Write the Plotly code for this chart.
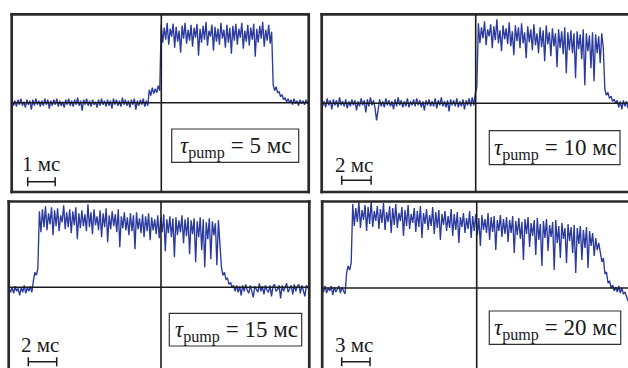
import numpy as np
import plotly.graph_objects as go

W, H = 628, 368

# ---------------- data ----------------
pump_ms = [5, 10, 15, 20]          # tau_pump for each panel
scale_ms = [1, 2, 2, 3]            # scale-bar length (ms)
t_start = [-5.43, -10.52, -10.70, -16.39]   # first sample time (ms)
t_end = [5.37, 10.36, 10.56, 16.03]         # last sample time (ms)

# signal amplitude (a.u.)
sig_5ms = [
    3, -3, 2, -4, 3, -2, 4, -3, 1, -5, 3, -2, 2, -7, 3, -3, 4, -2, 2, -4,
    2, -3, 4, -2, 3, -6, 2, -3, 3, -2, 4, -4, 2, -3, 1, -5, 3, -2, 4, -3,
    2, -4, 3, -2, 5, -3, 2, -8, 3, -2, 4, -3, 2, -4, 3, -2, 1, -5, 3, -3,
    4, -2, 2, -4, 3, -3, 2, -6, 4, -2, 3, -3, 2, -4, 5, -2, 3, -3, 2, -5,
    3, -2, 4, -7, 2, -3, 3, -2, 4, -4, 2, -3,
    13, 7, 15, 9, 14, 10, 17, 12,
    78, 60, 75, 63, 80, 58, 74, 66, 79, 55, 76, 61, 72, 50, 77, 64, 80, 59, 73, 62,
    78, 56, 75, 65, 79, 47, 74, 60, 77, 63, 81, 57, 72, 66, 78, 52, 76, 61, 74, 58,
    80, 64, 73, 55, 78, 60, 75, 49, 77, 62, 79, 58, 74, 65, 80, 54, 72, 61, 78, 57,
    75, 63, 79, 46, 74, 60, 77, 64, 81, 56, 73, 62, 78, 59, 71,
    18, 12, 16, 10, 11, 6, 8, 3, 5, 1, 4, 0,
    3, -2, 4, -1, 2, -3, 3, -1, 2, -2, 3, -1, 2,
]
sig_10ms = [
    3, -3, 2, -4, 5, -2, 3, -6, 4, -2, 3, -4, 6, -2, 2, -3, 4, -5, 2, -3,
    4, -2, 3, -7, 2, -3, 5, -2, 3, -9, 4, -3, 6, -2, 3, -5, -17, -7, 4, -3,
    2, -4, 5, -2, 3, -3, 2, -6, 4, -3, 6, -2, 3, -4, 2, -3, 5, -4, 2, -2,
    4, -3, 5, -2, 3, -4, 2, -7, 3, -2, 4, -3, 2, -3, 5, -5, 3, -2, 6, -3,
    2, -4, 3, -8, 4, -2, 3, -3, 5, -4, 2, -3, 4, -6, 3, -2, 5, -3, 6, -2,
    10, 16,
    80, 60, 76, 65, 82, 58, 74, 67, 79, 55, 77, 63, 84, 60, 73, 52, 78, 64, 75, 59,
    81, 57, 72, 48, 78, 62, 76, 55, 80, 60, 71, 45, 77, 61, 74, 53, 79, 58, 70, 50,
    76, 56, 73, 42, 78, 59, 71, 47, 75, 57, 70, 36, 74, 55, 72, 49, 76, 30, 71, 53,
    73, 50, 70, 25, 72, 54, 69, 44, 74, 18, 70, 52, 68, 35, 71, 22, 69, 50, 67, 40, 70, 55,
    14, 8, 11, 5, 7, 2, 4, 0,
    3, -4, 2, -6, 3, -3, 2, -5,
]
sig_15ms = [
    -1, -5, 0, -6, 1, -4, -1, -8, 0, -5, 2, -6, 0, -4, 1, -5,
    6, 15, 12, 19,
    76, 55, 78, 60, 81, 57, 74, 63, 80, 52, 77, 61, 79, 56, 72, 65, 82, 58, 75, 60,
    78, 54, 76, 62, 80, 48, 74, 59, 77, 61, 73, 56, 83, 60, 75, 53, 78, 62, 71, 57,
    77, 50, 74, 60, 79, 45, 72, 58, 76, 61, 73, 55, 78, 40, 71, 59, 75, 57, 70, 52,
    74, 56, 72, 38, 75, 58, 69, 54, 73, 50, 71, 56, 74, 47, 70, 57, 68, 53, 72, 49,
    70, 55, 73, 36, 68, 54, 71, 50, 69, 30, 70, 52, 67, 55, 72, 44, 68, 51, 70, 33,
    67, 53, 69, 25, 66, 50, 70, 37, 68, 20, 65, 48, 69, 28, 66, 52, 64, 22, 67, 45,
    20, 12, 15, 8, 9, 3, 5, 0, 2,
    -4, 2, -5, 1, -8, 2, -4, 3, -3, -6, 2, -3, -10, 1, -2, -5, 4, -4, 1, -7,
    2, -3, -5, 2, -9, 1, 3, -4, -2, 2, -11, 2, -4, 1, 4, -5, -2, 2, -7, 3,
    -4, 1, 3, -6, 2, -3, -9, 2, 0, -5, 2,
]
sig_20ms = [
    1, -4, 2, -5, 0, -3, 2, -7, 1, -4, -1, 2, -5, 1, -3, -6,
    15, 22, 18, 25,
    84, 62, 80, 66, 86, 60, 78, 68, 83, 57, 81, 64, 87, 61, 77, 67, 82, 59, 79, 65,
    85, 58, 76, 66, 82, 55, 80, 63, 84, 60, 75, 67, 81, 52, 78, 62, 83, 59, 74, 65,
    80, 56, 77, 61, 82, 50, 75, 64, 79, 58, 73, 62, 81, 54, 76, 60, 78, 48, 74, 63,
    77, 57, 72, 60, 79, 52, 74, 58, 76, 45, 71, 61, 75, 55, 70, 59, 77, 50, 72, 57,
    74, 53, 70, 42, 73, 58, 69, 55, 75, 48, 71, 56, 72, 38, 68, 57, 73, 51, 69, 54,
    71, 46, 68, 55, 72, 35, 67, 53, 70, 49, 66, 28, 69, 54, 71, 41, 65, 52, 68, 33,
    70, 48, 64, 22, 67, 50, 69, 37, 63, 51, 66, 18, 68, 45, 62, 30, 65, 49, 60, 25,
    64, 47, 61, 35, 63, 15, 60, 44, 62, 28, 58, 40, 61, 20, 57, 42, 55, 32, 50, 38, 45,
    36, 26, 30, 14, 16, 5, 7, 0,
    3, -3, 1, -4, 2, -5, 0, -6, -4, -10, -13,
]
signals = [sig_5ms, sig_10ms, sig_15ms, sig_20ms]

# ---------------- layout (pixel geometry) ----------------
panels = [
    dict(box=(11.7, 14.3, 308.7, 192.0), xr=(-5.44, 5.36), yr=(-89.3, 88.4),
         edges="ltrb", tbox=(171.7, 129.0, 298.7, 162.3), bar=(27.7, 181.7), lab=(41.3, 164.0)),
    dict(box=(321.7, 14.3, 628.0, 192.0), xr=(-10.476, 10.361), yr=(-88.7, 89.0),
         edges="ltb", tbox=(489.3, 130.7, 620.0, 164.7), bar=(341.7, 180.3), lab=(353.7, 165.0)),
    dict(box=(8.7, 201.5, 309.3, 368.0), xr=(-10.725, 10.444), yr=(-80.7, 85.8),
         edges="ltr", tbox=(169.3, 313.3, 301.7, 346.0), bar=(28.3, 361.7), lab=(40.3, 345.0)),
    dict(box=(322.2, 201.5, 628.0, 368.0), xr=(-16.367, 16.028), yr=(-80.0, 86.5),
         edges="lt", tbox=(489.3, 311.0, 620.7, 344.3), bar=(341.7, 361.7), lab=(354.2, 345.0)),
]

def px(x):
    return x / W

def py(y):
    return 1 - y / H

FRAME_C = "#2a2a2a"
LINE_C = "#1c1c1c"
TRACE_C = "rgb(42,58,158)"
FONT = "Liberation Serif"
TEXT_C = "#1a1a1a"

fig = go.Figure()
shapes = []
annotations = []

for k, (p, sig) in enumerate(zip(panels, signals)):
    n = k + 1
    xa = "x" if n == 1 else f"x{n}"
    ya = "y" if n == 1 else f"y{n}"
    l, t, r, b = p["box"]
    t_vals = np.linspace(t_start[k], t_end[k], len(sig))
    fig.add_trace(go.Scatter(x=t_vals, y=sig, mode="lines", xaxis=xa, yaxis=ya,
                             line=dict(color=TRACE_C, width=1.35), hoverinfo="skip",
                             showlegend=False))
    axkw = dict(showgrid=False, zeroline=False, showticklabels=False, ticks="",
                showline=False, fixedrange=True)
    fig.layout[("xaxis" if n == 1 else f"xaxis{n}")] = dict(
        domain=[px(l), px(r)], range=list(p["xr"]), anchor=ya, **axkw)
    fig.layout[("yaxis" if n == 1 else f"yaxis{n}")] = dict(
        domain=[max(0, py(b)), py(t)], range=list(p["yr"]), anchor=xa, **axkw)

    # frame
    fw = 2.7
    if "l" in p["edges"]:
        shapes.append(dict(type="line", xref="paper", yref="paper", x0=px(l), x1=px(l),
                           y0=py(t) + 1.35 / H, y1=max(0, py(b)) - (1.35 / H if "b" in p["edges"] else 0.01),
                           line=dict(color=FRAME_C, width=fw)))
    if "r" in p["edges"]:
        shapes.append(dict(type="line", xref="paper", yref="paper", x0=px(r), x1=px(r),
                           y0=py(t) + 1.35 / H, y1=max(0, py(b)) - (1.35 / H if "b" in p["edges"] else 0.01),
                           line=dict(color=FRAME_C, width=fw)))
    if "t" in p["edges"]:
        shapes.append(dict(type="line", xref="paper", yref="paper", x0=px(l) - 1.35 / W,
                           x1=(px(r) + 1.35 / W) if "r" in p["edges"] else 1.01,
                           y0=py(t), y1=py(t), line=dict(color=FRAME_C, width=fw)))
    if "b" in p["edges"]:
        shapes.append(dict(type="line", xref="paper", yref="paper", x0=px(l) - 1.35 / W,
                           x1=(px(r) + 1.35 / W) if "r" in p["edges"] else 1.01,
                           y0=py(b), y1=py(b), line=dict(color=FRAME_C, width=fw)))

    # crosshair through the origin
    shapes.append(dict(type="line", xref=xa, yref=f"{ya} domain", x0=0, x1=0, y0=0, y1=1,
                       line=dict(color=LINE_C, width=1.6), layer="above"))
    shapes.append(dict(type="line", xref=f"{xa} domain", yref=ya, x0=0, x1=1, y0=0, y1=0,
                       line=dict(color=LINE_C, width=1.6), layer="above"))

    # scale bar (in data units of the time axis)
    bx_px, by_px = p["bar"]
    x_lo, x_hi = p["xr"]
    y_lo, y_hi = p["yr"]
    bx = x_lo + (bx_px - l) / (r - l) * (x_hi - x_lo)
    by = y_hi - (by_px - t) / ((b - t)) * (y_hi - y_lo)
    bx2 = bx + scale_ms[k]
    shapes.append(dict(type="line", xref=xa, yref=ya, x0=bx, x1=bx2, y0=by, y1=by,
                       line=dict(color=LINE_C, width=1.5)))
    for xe in (bx, bx2):
        shapes.append(dict(type="line", xref=xa, yref=ya, x0=xe, x1=xe, y0=by - 4.5, y1=by + 4.5,
                           line=dict(color=LINE_C, width=1.5)))
    annotations.append(dict(xref="paper", yref="paper", x=px(p["lab"][0]), y=py(p["lab"][1]),
                            text=f"{scale_ms[k]} мс", showarrow=False, xanchor="center",
                            yanchor="middle", font=dict(family=FONT, size=21, color=TEXT_C)))

    # tau_pump label box
    tl, tt, tr, tb = p["tbox"]
    shapes.append(dict(type="rect", xref="paper", yref="paper", x0=px(tl), x1=px(tr),
                       y0=py(tb), y1=py(tt), line=dict(color="#333", width=1.2),
                       fillcolor="white", layer="above"))
    annotations.append(dict(xref="paper", yref="paper", x=px((tl + tr) / 2 + 0.5),
                            y=py((tt + tb) / 2 + 1.5),
                            text=f"<i>τ</i><sub>pump</sub> = {pump_ms[k]} мс", showarrow=False,
                            xanchor="center", yanchor="middle",
                            font=dict(family=FONT, size=23, color=TEXT_C)))

fig.update_layout(width=W, height=H, autosize=False,
                  margin=dict(l=0, r=0, t=0, b=0, pad=0),
                  paper_bgcolor="white", plot_bgcolor="rgba(0,0,0,0)",
                  shapes=shapes, annotations=annotations, showlegend=False)

fig.write_html("out.html", config=dict(displayModeBar=False, staticPlot=True))
